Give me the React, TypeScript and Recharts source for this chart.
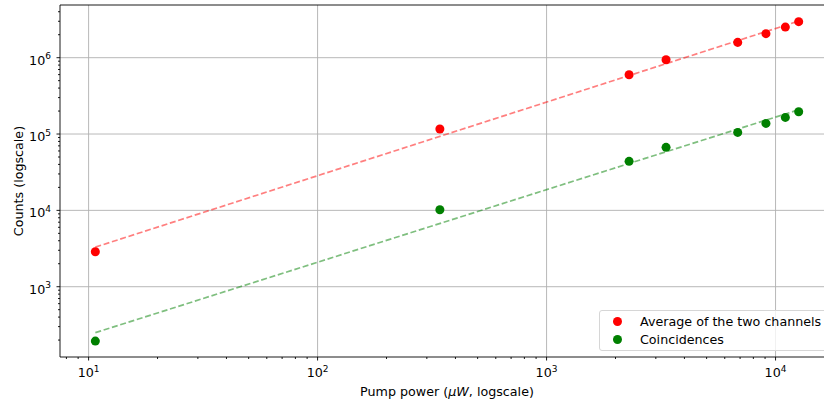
import { ComposedChart, Scatter, XAxis, YAxis, CartesianGrid, ReferenceArea, Legend } from 'recharts'

// measured points (pump power in uW)
const powers = [10.7, 342, 2293, 3325, 6835, 9080, 11035, 12620]
const channelAverage = [2875, 116300, 598500, 941500, 1587000, 2064000, 2518000, 2964000]
const coincidences = [194, 10200, 43860, 66950, 105000, 137700, 165000, 196000]

// fitted lines, end points
const fitPowers = [10.7, 12620]
const fitAverage = [3300, 3020000]
const fitCoincidences = [250, 208000]

const xMajor = [10, 100, 1000, 10000]
const xMinor = [8, 9, 20, 30, 40, 50, 60, 70, 80, 90, 200, 300, 400, 500, 600, 700, 800, 900,
    2000, 3000, 4000, 5000, 6000, 7000, 8000, 9000]
const yMajor = [1000, 10000, 100000, 1000000]
const yMinor = [200, 300, 400, 500, 600, 700, 800, 900, 2000, 3000, 4000, 5000, 6000, 7000, 8000, 9000,
    20000, 30000, 40000, 50000, 60000, 70000, 80000, 90000,
    200000, 300000, 400000, 500000, 600000, 700000, 800000, 900000, 2000000, 3000000, 4000000]

const xDomain = [7.5, 18000]
const yDomain = [120, 4900000]

const font = '"DejaVu Sans", sans-serif'
const fs = 12.7

const toRows = (xs: number[], ys: number[]) => xs.map((x, i) => ({ x, y: ys[i] }))
const averageRows = toRows(powers, channelAverage)
const coincidenceRows = toRows(powers, coincidences)
const fitAverageRows = toRows(fitPowers, fitAverage)
const fitCoincidenceRows = toRows(fitPowers, fitCoincidences)

const exp = (v: number) => Math.round(Math.log10(v))

function XTick({ x, y, payload }: any) {
    const major = xMajor.includes(payload.value)
    return (
        <g>
            <line x1={x} x2={x} y1={y} y2={y + (major ? 3.5 : 2)} stroke="#000" strokeWidth={0.9} />
            {major && (
                <text x={x} y={y + 20} textAnchor="middle" fontSize={fs} fontFamily={font} fill="#000">
                    <tspan>10</tspan>
                    <tspan dy={-5.5} fontSize={9}>{exp(payload.value)}</tspan>
                </text>
            )}
        </g>
    )
}

function YTick({ x, y, payload }: any) {
    const major = yMajor.includes(payload.value)
    return (
        <g>
            <line x1={x - (major ? 3.5 : 2)} x2={x} y1={y} y2={y} stroke="#000" strokeWidth={0.9} />
            {major && (
                <text x={x - 9} y={y + 7} textAnchor="end" fontSize={fs} fontFamily={font} fill="#000">
                    <tspan>10</tspan>
                    <tspan dy={-5.5} fontSize={9}>{exp(payload.value)}</tspan>
                </text>
            )}
        </g>
    )
}

function LegendBox({ payload }: any) {
    const items = (payload || []).filter((p: any) => p.type !== 'none')
    return (
        <div style={{
            border: '1px solid #d6d6d6', borderRadius: 3, background: 'rgba(255,255,255,0.8)',
            width: 240, height: 41, boxSizing: 'border-box', paddingTop: 1,
            fontFamily: font, fontSize: fs, color: '#000',
        }}>
            {items.map((p: any) => (
                <div key={p.value} style={{ display: 'flex', alignItems: 'center', height: 18.6 }}>
                    <span style={{
                        width: 9, height: 9, borderRadius: '50%', background: p.color,
                        marginLeft: 12.5, marginRight: 18.5, display: 'inline-block', flexShrink: 0,
                    }} />
                    <span style={{ whiteSpace: 'nowrap' }}>{p.value}</span>
                </div>
            ))}
        </div>
    )
}

const dashed = { strokeOpacity: 0.5, strokeWidth: 1.7, strokeDasharray: '6 2.7' }

export default function App() {
    return (
        <div style={{ position: 'fixed', left: 0, top: 0, width: 824, height: 406, overflow: 'hidden', background: '#fff' }}>
            <ComposedChart width={840} height={406} margin={{ top: 5, right: 6, left: 0, bottom: 0 }}>
                <CartesianGrid verticalValues={xMajor} horizontalValues={yMajor} stroke="#b0b0b0" strokeWidth={0.9} />
                <XAxis
                    dataKey="x" type="number" scale="log" domain={xDomain} allowDataOverflow
                    ticks={[...xMinor, ...xMajor].sort((a, b) => a - b)} interval={0}
                    tick={XTick} tickLine={false} tickSize={0} tickMargin={0} axisLine={false} height={49}
                    label={{
                        content: () => (
                            <text x={447} y={396} textAnchor="middle" fontSize={fs} fontFamily={font} fill="#000">
                                Pump power (<tspan fontStyle="italic">μW</tspan>, logscale)
                            </text>
                        ),
                    }}
                />
                <YAxis
                    dataKey="y" type="number" scale="log" domain={yDomain} allowDataOverflow
                    ticks={[...yMinor, ...yMajor].sort((a, b) => a - b)} interval={0}
                    tick={YTick} tickLine={false} tickSize={0} tickMargin={0} axisLine={false} width={60}
                    label={{
                        content: () => (
                            <text x={22.5} y={181} transform="rotate(-90 22.5 181)" textAnchor="middle" fontSize={fs} fontFamily={font} fill="#000">
                                Counts (logscale)
                            </text>
                        ),
                    }}
                />
                <Scatter data={fitAverageRows} line={{ stroke: 'red', ...dashed }} shape={() => <g />} legendType="none" isAnimationActive={false} />
                <Scatter data={fitCoincidenceRows} line={{ stroke: 'green', ...dashed }} shape={() => <g />} legendType="none" isAnimationActive={false} />
                <Scatter name="Average of the two channels" data={averageRows} fill="#ff0000" legendType="circle" isAnimationActive={false} />
                <Scatter name="Coincidences" data={coincidenceRows} fill="#008000" legendType="circle" isAnimationActive={false} />
                <ReferenceArea x1={xDomain[0]} x2={xDomain[1]} y1={yDomain[0]} y2={yDomain[1]} fill="none" stroke="#000" strokeWidth={0.9} fillOpacity={0} />
                <Legend
                    layout="horizontal" align="center" verticalAlign="middle"
                    content={LegendBox}
                    wrapperStyle={{ left: 599, top: 310, width: 240, height: 41 }}
                />
            </ComposedChart>
        </div>
    )
}
